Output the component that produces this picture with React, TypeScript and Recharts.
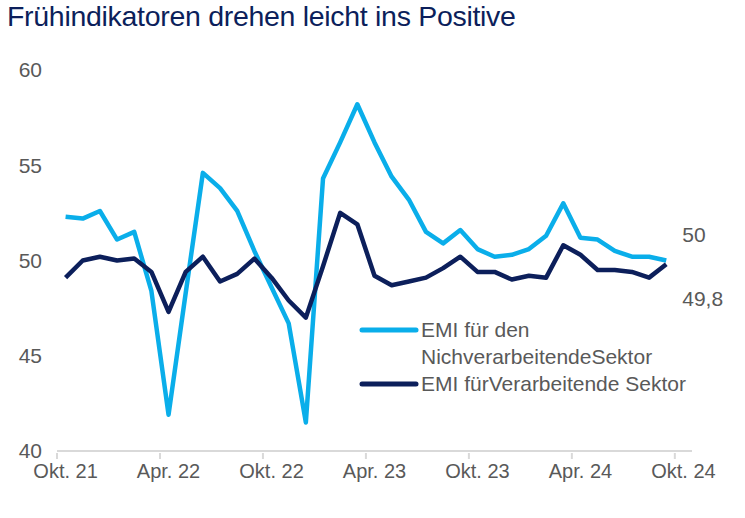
import React from 'react';
import { LineChart, Line, XAxis, YAxis, LabelList } from 'recharts';

const NAVY = '#0c1f5b';
const CYAN = '#0aaeea';
const GREY = '#595959';
const FONT = '"Liberation Sans", Arial, sans-serif';

// Monatswerte Okt. 21 bis Sep. 24, dazu die leere Kategorie Okt. 24
const months = [
  'Okt. 21', 'Nov. 21', 'Dez. 21', 'Jan. 22', 'Feb. 22', 'Mär. 22',
  'Apr. 22', 'Mai 22', 'Jun. 22', 'Jul. 22', 'Aug. 22', 'Sep. 22',
  'Okt. 22', 'Nov. 22', 'Dez. 22', 'Jan. 23', 'Feb. 23', 'Mär. 23',
  'Apr. 23', 'Mai 23', 'Jun. 23', 'Jul. 23', 'Aug. 23', 'Sep. 23',
  'Okt. 23', 'Nov. 23', 'Dez. 23', 'Jan. 24', 'Feb. 24', 'Mär. 24',
  'Apr. 24', 'Mai 24', 'Jun. 24', 'Jul. 24', 'Aug. 24', 'Sep. 24',
  'Okt. 24',
];

const nonManufacturing = [
  52.3, 52.2, 52.6, 51.1, 51.5, 48.4, 41.9, 48.3, 54.6, 53.8, 52.6, 50.5,
  48.6, 46.7, 41.5, 54.3, 56.2, 58.2, 56.2, 54.4, 53.2, 51.5, 50.9, 51.6,
  50.6, 50.2, 50.3, 50.6, 51.3, 53.0, 51.2, 51.1, 50.5, 50.2, 50.2, 50.0,
];

const manufacturing = [
  49.1, 50.0, 50.2, 50.0, 50.1, 49.4, 47.3, 49.4, 50.2, 48.9, 49.3, 50.1,
  49.1, 47.9, 47.0, 49.7, 52.5, 51.9, 49.2, 48.7, 48.9, 49.1, 49.6, 50.2,
  49.4, 49.4, 49.0, 49.2, 49.1, 50.8, 50.3, 49.5, 49.5, 49.4, 49.1, 49.8,
];

const xTicks = [0, 6, 12, 18, 24, 30, 36];
const yTicks = [40, 45, 50, 55, 60];

const data = months.map((m, i) => ({
  idx: i,
  month: m,
  nonMfg: nonManufacturing[i] ?? null,
  mfg: manufacturing[i] ?? null,
}));

const lastIdx = nonManufacturing.length - 1;
const fmt = (v: number) => (Number.isInteger(v) ? String(v) : v.toFixed(1).replace('.', ','));

const CHART_W = 745;
const MARGIN_RIGHT = 53;
const Y_W = 57;
const bandHalf = (CHART_W - MARGIN_RIGHT - Y_W) / months.length / 2;

const MonthTick = ({ x, y, payload }: any) => (
  <g>
    <line x1={x - bandHalf} x2={x - bandHalf} y1={y} y2={y + 6} stroke="#d9d9d9" strokeWidth={2} />
    <text x={x} y={y + 20} textAnchor="middle" dominantBaseline="middle" fill={GREY} fontSize={20} fontFamily={FONT}>
      {months[payload.value]}
    </text>
  </g>
);

const endLabel = (dy: number) => (props: any) => {
  const { x, y, value, index } = props;
  if (index !== lastIdx || value == null) return null;
  return (
    <text x={x + 16} y={y + dy} dominantBaseline="middle" fill={GREY} fontSize={21} fontFamily={FONT}>
      {fmt(value)}
    </text>
  );
};

const legendItems = [
  { lines: ['EMI für den', 'NichverarbeitendeSektor'], color: CYAN },
  { lines: ['EMI fürVerarbeitende Sektor'], color: NAVY },
];

const LegendBox = () => (
  <div
    style={{
      position: 'absolute',
      left: 358,
      top: 316,
      fontFamily: FONT,
      fontSize: 21,
      color: GREY,
      lineHeight: '27px',
    }}
  >
    {legendItems.map((item) => (
      <div key={item.lines[0]} style={{ display: 'flex', alignItems: 'flex-start' }}>
        <svg width={63} height={27} style={{ flex: 'none' }}>
          <line x1={4} x2={58} y1={14} y2={14} stroke={item.color} strokeWidth={5} strokeLinecap="round" />
        </svg>
        <div>
          {item.lines.map((l) => (
            <div key={l} style={{ whiteSpace: 'nowrap' }}>{l}</div>
          ))}
        </div>
      </div>
    ))}
  </div>
);

export default function App() {
  return (
    <div style={{ position: 'relative', width: 745, height: 518, background: '#fff', fontFamily: FONT }}>
      <style>{`body{margin:0}`}</style>
      <div style={{ position: 'absolute', left: 7, top: 0, fontSize: 28.5, color: NAVY, letterSpacing: -0.3, zIndex: 1 }}>
        Frühindikatoren drehen leicht ins Positive
      </div>
      <LineChart width={CHART_W} height={518} data={data} margin={{ top: 70, right: MARGIN_RIGHT, left: 0, bottom: 0 }}>
        <XAxis
          dataKey="idx"
          type="number"
          domain={[-0.5, months.length - 0.5]}
          ticks={xTicks}
          interval={0}
          height={67}
          axisLine={{ stroke: '#d9d9d9', strokeWidth: 2 }}
          tickLine={false}
          tickSize={0}
          tick={<MonthTick />}
        />
        <YAxis
          domain={[40, 60]}
          ticks={yTicks}
          width={Y_W}
          axisLine={false}
          tickLine={false}
          tickSize={0}
          tickMargin={15}
          tick={{ fill: GREY, fontSize: 21, fontFamily: FONT }}
        />
        <Line
          dataKey="nonMfg"
          stroke={CYAN}
          strokeWidth={4.5}
          dot={false}
          strokeLinejoin="round"
          isAnimationActive={false}
        >
          <LabelList dataKey="nonMfg" content={endLabel(-24)} />
        </Line>
        <Line
          dataKey="mfg"
          stroke={NAVY}
          strokeWidth={4.5}
          dot={false}
          strokeLinejoin="round"
          isAnimationActive={false}
        >
          <LabelList dataKey="mfg" content={endLabel(36)} />
        </Line>
      </LineChart>
      <LegendBox />
    </div>
  );
}
